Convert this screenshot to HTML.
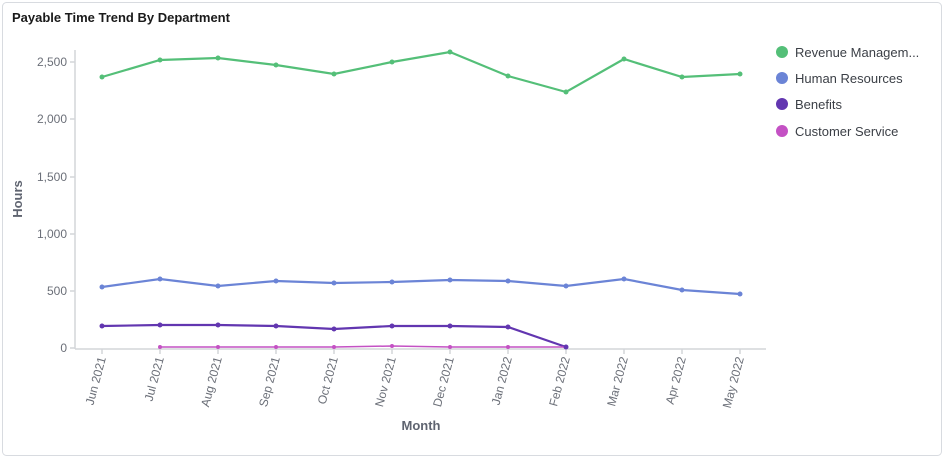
<!DOCTYPE html><html><head><style>
body{margin:0;background:#fff;font-family:"Liberation Sans",sans-serif}
</style></head><body>
<svg width="944" height="458" xmlns="http://www.w3.org/2000/svg" font-family="Liberation Sans, sans-serif">
<rect x="2.5" y="2.5" width="939" height="453" rx="4" fill="#fff" stroke="#d8dbe0"/>
<text x="12" y="22" font-size="13" font-weight="bold" fill="#1a1a1a">Payable Time Trend By Department</text>
<g stroke="#d3d5d9" stroke-width="1.5" fill="none">
<path d="M75 50V349M75 349H766"/>
<path d="M70 62H75M70 119H75M70 177H75M70 234H75M70 291H75M70 348H75"/>
<path d="M102 349v5M160 349v5M218 349v5M276 349v5M334 349v5M392 349v5M450 349v5M508 349v5M566 349v5M624 349v5M682 349v5M740 349v5"/>
</g>
<g font-size="12" fill="#6b6f78" text-anchor="end">
<text x="67" y="66">2,500</text><text x="67" y="123">2,000</text><text x="67" y="181">1,500</text><text x="67" y="238">1,000</text><text x="67" y="295">500</text><text x="67" y="352">0</text>
</g>
<g font-size="12" fill="#6b6f78" text-anchor="end">
<text transform="translate(106,358) rotate(-75)">Jun 2021</text>
<text transform="translate(164,358) rotate(-75)">Jul 2021</text>
<text transform="translate(222,358) rotate(-75)">Aug 2021</text>
<text transform="translate(280,358) rotate(-75)">Sep 2021</text>
<text transform="translate(338,358) rotate(-75)">Oct 2021</text>
<text transform="translate(396,358) rotate(-75)">Nov 2021</text>
<text transform="translate(454,358) rotate(-75)">Dec 2021</text>
<text transform="translate(512,358) rotate(-75)">Jan 2022</text>
<text transform="translate(570,358) rotate(-75)">Feb 2022</text>
<text transform="translate(628,358) rotate(-75)">Mar 2022</text>
<text transform="translate(686,358) rotate(-75)">Apr 2022</text>
<text transform="translate(744,358) rotate(-75)">May 2022</text>
</g>
<text x="421" y="430" font-size="13" font-weight="bold" fill="#5f6470" text-anchor="middle">Month</text>
<text transform="translate(22,199) rotate(-90)" font-size="13" font-weight="bold" fill="#5f6470" text-anchor="middle">Hours</text>
<g fill="none" stroke-width="2.2">
<polyline stroke="#54bf78" points="102,77 160,60 218,58 276,65 334,74 392,62 450,52 508,76 566,92 624,59 682,77 740,74"/>
<polyline stroke="#6b84d6" points="102,287 160,279 218,286 276,281 334,283 392,282 450,280 508,281 566,286 624,279 682,290 740,294"/>
<polyline stroke="#6236b0" points="102,326 160,325 218,325 276,326 334,329 392,326 450,326 508,327 566,347"/>
<polyline stroke="#c451c4" stroke-width="1.5" points="160,347 218,347 276,347 334,347 392,346 450,347 508,347 566,347"/>
</g>
<g fill="#54bf78"><circle cx="102" cy="77" r="2.5"/><circle cx="160" cy="60" r="2.5"/><circle cx="218" cy="58" r="2.5"/><circle cx="276" cy="65" r="2.5"/><circle cx="334" cy="74" r="2.5"/><circle cx="392" cy="62" r="2.5"/><circle cx="450" cy="52" r="2.5"/><circle cx="508" cy="76" r="2.5"/><circle cx="566" cy="92" r="2.5"/><circle cx="624" cy="59" r="2.5"/><circle cx="682" cy="77" r="2.5"/><circle cx="740" cy="74" r="2.5"/></g>
<g fill="#6b84d6"><circle cx="102" cy="287" r="2.5"/><circle cx="160" cy="279" r="2.5"/><circle cx="218" cy="286" r="2.5"/><circle cx="276" cy="281" r="2.5"/><circle cx="334" cy="283" r="2.5"/><circle cx="392" cy="282" r="2.5"/><circle cx="450" cy="280" r="2.5"/><circle cx="508" cy="281" r="2.5"/><circle cx="566" cy="286" r="2.5"/><circle cx="624" cy="279" r="2.5"/><circle cx="682" cy="290" r="2.5"/><circle cx="740" cy="294" r="2.5"/></g>
<g fill="#6236b0"><circle cx="102" cy="326" r="2.5"/><circle cx="160" cy="325" r="2.5"/><circle cx="218" cy="325" r="2.5"/><circle cx="276" cy="326" r="2.5"/><circle cx="334" cy="329" r="2.5"/><circle cx="392" cy="326" r="2.5"/><circle cx="450" cy="326" r="2.5"/><circle cx="508" cy="327" r="2.5"/><circle cx="566" cy="347" r="2.5"/></g>
<g fill="#c451c4"><circle cx="160" cy="347" r="2"/><circle cx="218" cy="347" r="2"/><circle cx="276" cy="347" r="2"/><circle cx="334" cy="347" r="2"/><circle cx="392" cy="346" r="2"/><circle cx="450" cy="347" r="2"/><circle cx="508" cy="347" r="2"/></g>
<g font-size="13" fill="#3b3f46">
<circle cx="782" cy="52" r="6" fill="#54bf78"/><text x="795" y="57">Revenue Managem...</text>
<circle cx="782" cy="78" r="6" fill="#6b84d6"/><text x="795" y="83">Human Resources</text>
<circle cx="782" cy="104" r="6" fill="#6236b0"/><text x="795" y="109">Benefits</text>
<circle cx="782" cy="131" r="6" fill="#c451c4"/><text x="795" y="136">Customer Service</text>
</g>
</svg>
</body></html>
